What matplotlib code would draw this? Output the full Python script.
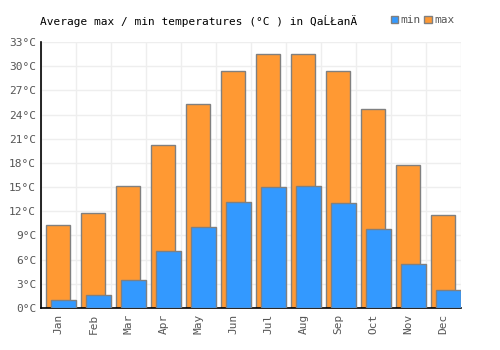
import numpy as np
import matplotlib
matplotlib.use("Agg")
import matplotlib.pyplot as plt
from matplotlib.patches import Patch

months = ["Jan", "Feb", "Mar", "Apr", "May", "Jun", "Jul", "Aug", "Sep", "Oct", "Nov", "Dec"]
t_max = [10.3, 11.8, 15.1, 20.2, 25.3, 29.4, 31.5, 31.5, 29.4, 24.7, 17.7, 11.5]
t_min = [0.95, 1.6, 3.5, 7.1, 10.0, 13.2, 15.0, 15.1, 13.0, 9.8, 5.5, 2.2]
yticks = list(range(0, 34, 3))

plt.rcParams['font.family'] = ['DejaVu Sans Mono', 'DejaVu Sans']

fig = plt.figure(figsize=(5, 3.5), dpi=100)
ax = fig.add_axes([0.082, 0.12, 0.84, 0.76])

x = np.arange(len(months))
ax.bar(x - 0.01, t_max, width=0.69, color="#ff9933", edgecolor="#808080", linewidth=1, zorder=2)
ax.bar(x + 0.14, t_min, width=0.71, color="#3399ff", edgecolor="#808080", linewidth=1, zorder=3)

ax.set_xlim(-0.5, 11.5)
ax.set_ylim(0, 33)
ax.set_yticks(yticks)
ax.set_yticklabels([str(v) + "°C" for v in yticks], color="#555555", fontsize=8)
ax.set_xticks(x)
ax.set_xticklabels(months, rotation=90, color="#555555", fontsize=8)
ax.set_xticks(np.arange(-0.5, 12, 1), minor=True)
ax.tick_params(axis="both", which="both", length=0)
ax.tick_params(axis="x", pad=4)
ax.grid(axis="y", color="#eeeeee", linewidth=1, zorder=0)
ax.grid(axis="x", which="minor", color="#eeeeee", linewidth=1, zorder=0)
ax.grid(axis="x", which="major", visible=False)
for s in ["top", "right"]:
    ax.spines[s].set_visible(False)
for s in ["left", "bottom"]:
    ax.spines[s].set_color("black")
    ax.spines[s].set_linewidth(1.2)

fig.text(0.08, 0.94, "Average max / min temperatures (°C ) in QaĹŁanÄ", fontsize=8, color="black", va="center")
handles = [Patch(facecolor="#3399ff", edgecolor="#808080", label="min"),
           Patch(facecolor="#ff9933", edgecolor="#808080", label="max")]
fig.legend(handles=handles, loc="center right", bbox_to_anchor=(0.92, 0.942), ncol=2, frameon=False,
           fontsize=8, handlelength=0.7, handleheight=0.7, handletextpad=0.2, columnspacing=0.3,
           labelcolor="#555555", borderpad=0)

fig.savefig("out.png", dpi=100)
